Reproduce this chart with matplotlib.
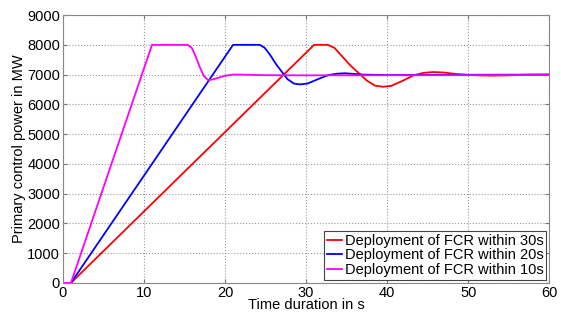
import matplotlib
matplotlib.use("Agg")
import matplotlib.pyplot as plt

plt.rcParams['font.family'] = ['Liberation Sans', 'DejaVu Sans']

# Deployment within 30 s (red)
t30 = [0, 1, 31.0, 32.7, 33.5, 34.5, 35.5, 36.5, 37.5, 38.5, 39.5, 40.5, 42.0, 43.2,
       44.5, 45.7, 47.0, 48.5, 49.5, 51.0, 53.0, 55.0, 57.0, 60.0]
p30 = [0, 0, 8000, 8000, 7900, 7600, 7300, 7050, 6800, 6630, 6590, 6620, 6800, 6970,
       7060, 7085, 7070, 7020, 7000, 6975, 6965, 6975, 6995, 7000]

# Deployment within 20 s (blue)
t20 = [0, 1, 21.0, 24.3, 24.9, 25.6, 26.3, 27.0, 27.7, 28.5, 29.3, 30.2, 31.5, 32.7,
       33.8, 34.8, 36.0, 37.0, 40.0, 45.0, 60.0]
p20 = [0, 0, 8000, 8000, 7900, 7650, 7350, 7100, 6850, 6700, 6670, 6700, 6850, 6980,
       7030, 7045, 7020, 7000, 6985, 6990, 7000]

# Deployment within 10 s (magenta)
t10 = [0, 1, 11.0, 15.4, 15.9, 16.4, 16.9, 17.4, 17.9, 18.4, 19.0, 20.0, 21.0, 22.0,
       25.0, 30.0, 60.0]
p10 = [0, 0, 8000, 8000, 7900, 7600, 7250, 6950, 6820, 6830, 6880, 6960, 7000, 7000,
       6980, 6975, 6985]

labels = ["Deployment of FCR within 30s",
          "Deployment of FCR within 20s",
          "Deployment of FCR within 10s"]
colors = ["#ff0000", "#0000ff", "#ff00ff"]

xticks = [0, 10, 20, 30, 40, 50, 60]
yticks = [0, 1000, 2000, 3000, 4000, 5000, 6000, 7000, 8000, 9000]

fig = plt.figure(figsize=(5.61, 3.14), dpi=100)
ax = fig.add_axes([0.112, 0.099, 0.867, 0.853])

for t, p, lab, c in zip([t30, t20, t10], [p30, p20, p10], labels, colors):
    ax.plot(t, p, color=c, lw=1.3, label=lab)

ax.set_xlim(0, 60)
ax.set_ylim(0, 9000)
ax.set_xticks(xticks)
ax.set_yticks(yticks)
ax.grid(True, linestyle=':', color='#999999', lw=0.8)
ax.tick_params(direction='in', top=True, right=True, labelsize=10.5, length=3,
               color='#777777', pad=2)
for s in ax.spines.values():
    s.set_color('#888888')
    s.set_linewidth(0.8)

ax.set_xlabel("Time duration in s", fontsize=10.5, labelpad=-1)
ax.set_ylabel("Primary control power in MW", fontsize=10.5, labelpad=1)

leg = ax.legend(loc='lower right', fontsize=10.5, handlelength=1.0, handletextpad=0.2,
                borderpad=0.2, labelspacing=0.05, borderaxespad=0.2, fancybox=False,
                framealpha=1)
leg.get_frame().set_edgecolor('#444444')
leg.get_frame().set_linewidth(0.8)

fig.savefig("out.png", dpi=100)
